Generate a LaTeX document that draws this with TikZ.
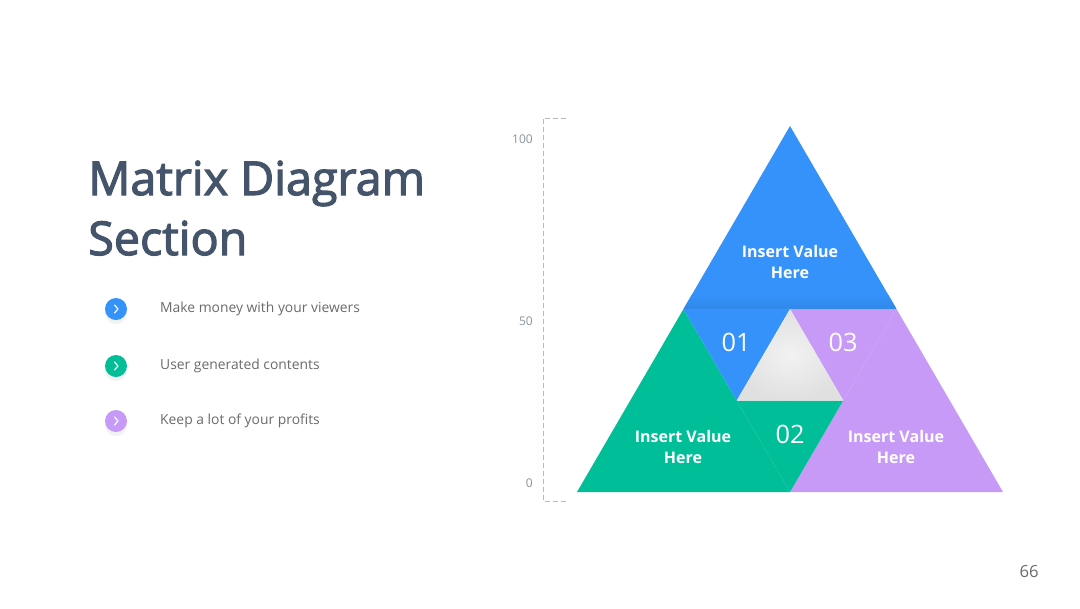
\documentclass[tikz,border=0pt]{standalone}
\usepackage{fontspec}
\setmainfont{Open Sans}
\newfontfamily\titlefont[FakeBold=2.5]{Open Sans}
\usetikzlibrary{positioning,calc,shadows}
\definecolor{tblue}{HTML}{3492FA}
\definecolor{tgreen}{HTML}{00BF98}
\definecolor{tpurple}{HTML}{C79AF8}
\definecolor{titlecol}{HTML}{44546A}
\definecolor{bodytext}{HTML}{6B6B6B}
\definecolor{axiscol}{HTML}{8A939C}

\begin{document}
\begin{tikzpicture}[
    x=0.75pt, y=-0.75pt,
    title/.style={anchor=base west, inner sep=0pt, text=titlecol,
                  font=\titlefont\fontsize{35}{40}\selectfont},
    bullet/.style={circle, minimum size=16.5pt, inner sep=0pt,
                   drop shadow={opacity=0.1, shadow xshift=0pt, shadow yshift=-3pt}},
    chevron/.style={draw=white, line width=0.9pt, line cap=round, line join=round},
    item/.style={inner sep=0pt, text=bodytext, font=\fontsize{10.4}{12}\selectfont},
    value/.style={align=center, text=white, font=\fontsize{12}{16}\selectfont\bfseries},
    num/.style={inner sep=0pt, text=white, font=\fontsize{19}{20}\selectfont},
    tick/.style={anchor=base east, inner sep=0pt, text=axiscol,
                 font=\fontsize{9}{10}\selectfont},
    guide/.style={draw=black!28, line width=0.6pt, dash pattern=on 3.5pt off 2.5pt}]
  \useasboundingbox[fill=white] (0,0) rectangle (1080,608);

  \node[title] (title1) at (88,195) {Matrix Diagram};
  \node[title] (title2) at (88,255) {Section};

  \node[bullet, fill=tblue] (b1) at (116,309) {};
  \node[bullet, fill=tgreen] (b2) at (116,366) {};
  \node[bullet, fill=tpurple] (b3) at (116,421) {};
  \foreach \b in {b1,b2,b3}
    \draw[chevron] ($(\b)+(-1.5,-4)$) -- ++(3.5,4) -- ++(-3.5,4);
  \node[item, right=24.5pt of b1] (t1) {Make money with your viewers};
  \node[item, right=24.5pt of b2] (t2) {User generated contents};
  \node[item, right=24.5pt of b3] (t3) {Keep a lot of your profits};

  \coordinate (axtop) at (543,118);
  \coordinate (axbot) at (543,501);
  \draw[guide] ($(axtop)+(23,0)$) -- (axtop) -- (axbot) -- ++(23,0);
  \node[tick] (y100) at (533,143) {100};
  \node[tick] (y50) at (533,325) {50};
  \node[tick] (y0) at (533,487) {0};

  \coordinate (apex) at (790,126);
  \coordinate (bl) at (577,492);
  \coordinate (br) at (1003,492);
  \coordinate (ml) at ($(apex)!0.5!(bl)$);
  \coordinate (mr) at ($(apex)!0.5!(br)$);
  \coordinate (mb) at ($(bl)!0.5!(br)$);
  \coordinate (ct) at ($(ml)!0.5!(mr)$);
  \coordinate (cl) at ($(ml)!0.5!(mb)$);
  \coordinate (cr) at ($(mr)!0.5!(mb)$);

  \fill[tblue] (apex) -- (ml) -- (mr) -- cycle;
  \begin{scope}
    \clip (apex) -- (ml) -- (mr) -- cycle;
    \shade[top color=tblue, bottom color=tblue!93!black] ($(ml)+(0,-14)$) rectangle (mr);
  \end{scope}
  \fill[tgreen] (ml) -- (bl) -- (mb) -- cycle;
  \fill[tpurple] (mr) -- (mb) -- (br) -- cycle;
  \fill[tblue] (ml) -- (ct) -- (cl) -- cycle;
  \fill[tpurple] (ct) -- (mr) -- (cr) -- cycle;
  \fill[tgreen] (cl) -- (cr) -- (mb) -- cycle;
  \shade[inner color=black!5, outer color=black!12] (ct) -- (cl) -- (cr) -- cycle;

  \node[value] (topval) at (790,262) {Insert Value\\Here};
  \node[value] (leftval) at (683,447) {Insert Value\\Here};
  \node[value] (rightval) at (896,447) {Insert Value\\Here};
  \node[num] (n01) at (736,342) {01};
  \node[num] (n03) at (843,342) {03};
  \node[num] (n02) at (790,434) {02};

  \node[anchor=base east, inner sep=0pt, text=bodytext,
        font=\fontsize{12.5}{14}\selectfont] (page) at (1039,577) {66};
\end{tikzpicture}
\end{document}
